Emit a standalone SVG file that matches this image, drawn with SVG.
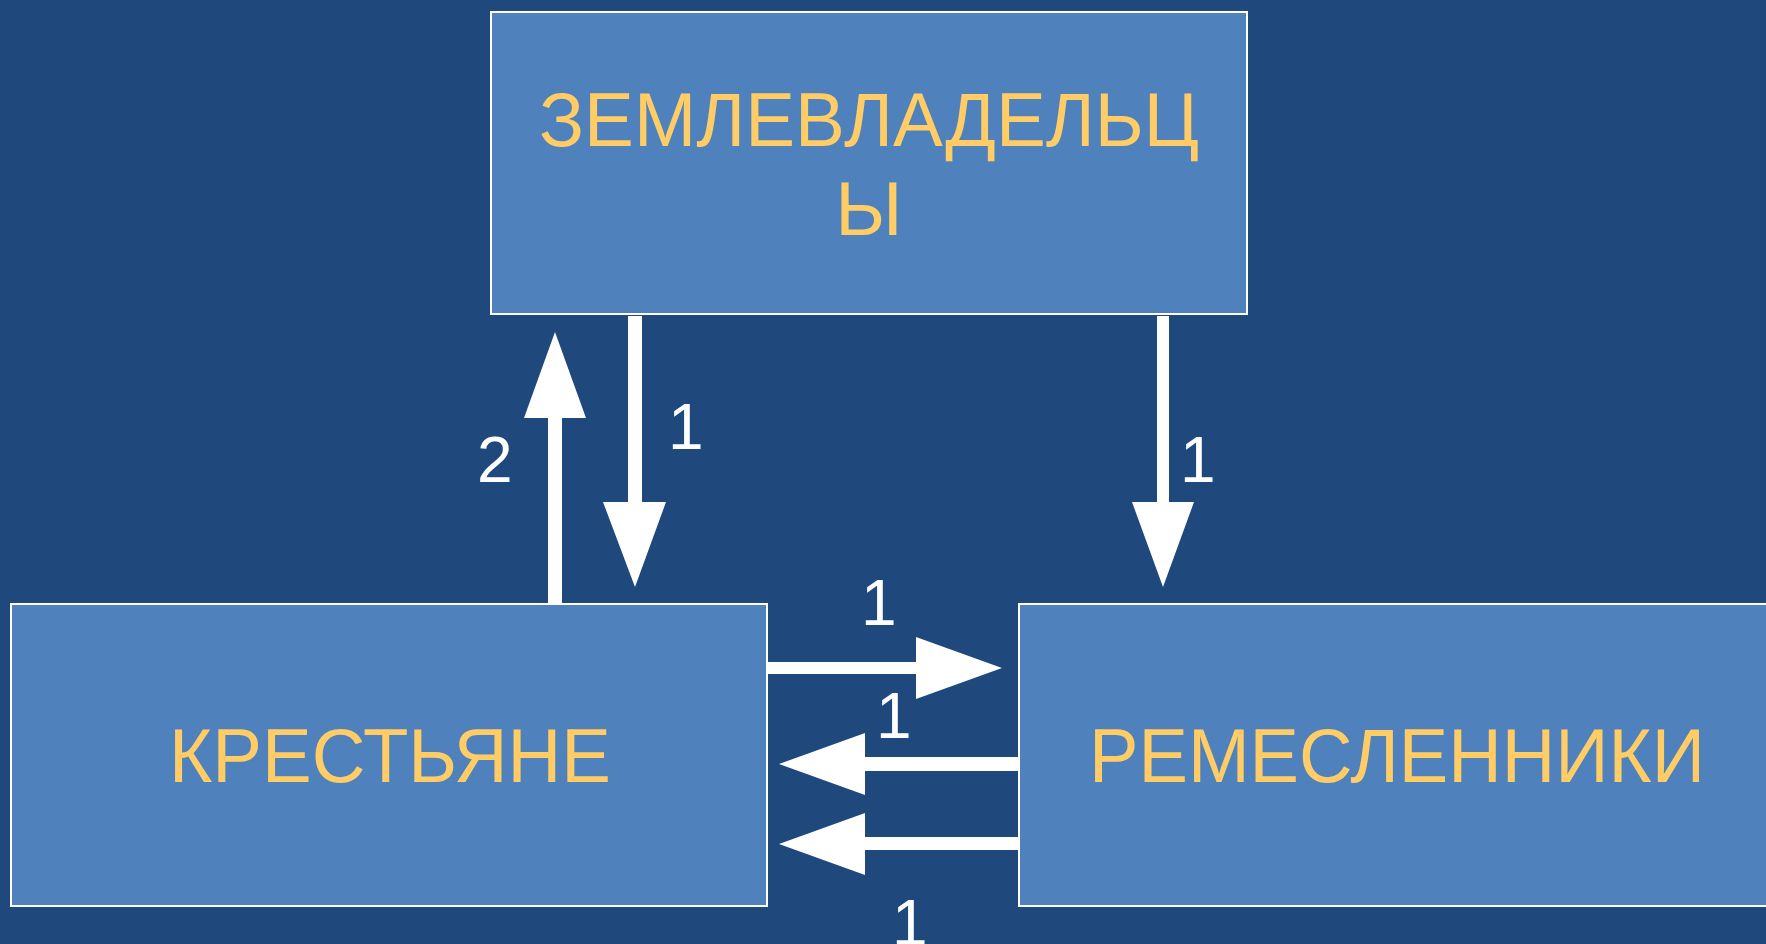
<svg xmlns="http://www.w3.org/2000/svg" width="1766" height="944" viewBox="0 0 1766 944">
<style>
.box{fill:#4F81BD;stroke:#FFFFFF;stroke-width:2}
.lbl{font-family:"Liberation Sans",Arial,sans-serif;font-size:76px;fill:#FFCC66;text-anchor:middle}
.num{font-family:"Liberation Sans",Arial,sans-serif;font-size:64px;fill:#FFFFFF}
.arr{fill:#FFFFFF}
</style>
<rect x="0" y="0" width="1766" height="944" fill="#1F497D"/>
<g id="node-zemlevladeltsy">
<rect class="box" x="491" y="12" width="756" height="302"/>
<text class="lbl" x="869" y="146" textLength="660" lengthAdjust="spacingAndGlyphs">ЗЕМЛЕВЛАДЕЛЬЦ</text>
<text class="lbl" x="869" y="235">Ы</text>
</g>
<g id="node-krestyane">
<rect class="box" x="11" y="604" width="756" height="302"/>
<text class="lbl" x="390" y="782" textLength="442" lengthAdjust="spacingAndGlyphs">КРЕСТЬЯНЕ</text>
</g>
<g id="node-remeslenniki">
<rect class="box" x="1019" y="604" width="756" height="302"/>
<text class="lbl" x="1397" y="782" textLength="616" lengthAdjust="spacingAndGlyphs">РЕМЕСЛЕННИКИ</text>
</g>
<g id="connectors">
<polygon class="arr" points="548,603 548,418 524,418 555,332 586,418 562,418 562,603"/>
<polygon class="arr" points="628,316 642,316 642,502 666,502 635,587 603,502 628,502"/>
<polygon class="arr" points="1157,316 1169,316 1169,502 1194,502 1163,587 1132,502 1157,502"/>
<polygon class="arr" points="767,662 916,662 916,637 1002,668 916,699 916,674 767,674"/>
<polygon class="arr" points="1018,757 865,757 865,733 779,764 865,795 865,771 1018,771"/>
<polygon class="arr" points="1018,837 865,837 865,813 779,844 865,875 865,850 1018,850"/>
<text class="num" x="477" y="482">2</text>
<text class="num" x="668" y="449">1</text>
<text class="num" x="1180" y="482">1</text>
<text class="num" x="861" y="625">1</text>
<text class="num" x="876" y="738">1</text>
<text class="num" x="892" y="945">1</text>
</g>
</svg>
